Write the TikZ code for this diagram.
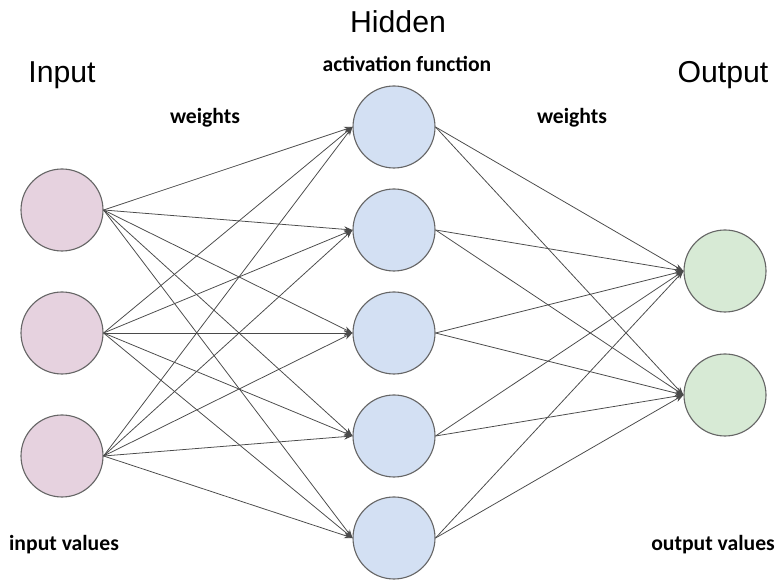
\documentclass[tikz,border=0pt]{standalone}
\usepackage{fontspec}
\setmainfont{Liberation Sans}
\newfontfamily\labelfont{Carlito}
\usetikzlibrary{arrows.meta}

\definecolor{inpink}{HTML}{E6D2DF}
\definecolor{hidblue}{HTML}{D3E0F3}
\definecolor{outgreen}{HTML}{D7EAD5}
\definecolor{rimgray}{HTML}{666666}
\definecolor{wiregray}{HTML}{4A4A4A}

\begin{document}
\begin{tikzpicture}[
  >={Stealth[length=2.1mm, width=1.5mm]},
  neuron/.style={circle, draw=rimgray, line width=0.8pt, minimum size=2.05cm, inner sep=0pt},
  innode/.style={neuron, fill=inpink},
  hidnode/.style={neuron, fill=hidblue},
  outnode/.style={neuron, fill=outgreen},
  arr/.style={->, line width=0.55pt, draw=wiregray},
  layer/.style={font=\fontsize{21.5}{24}\selectfont},
  note/.style={font=\labelfont\bfseries\fontsize{15.4}{18}\selectfont},
]
  \useasboundingbox (0,0) rectangle (19.4,14.525);

  % Layer titles
  \node[layer] (tin) at (1.55, 12.65) {Input};
  \node[layer] (thid) at (9.95, 13.975) {Hidden};
  \node[layer] (tout) at (18.075, 12.65) {Output};

  % Annotations
  \node[note] (act) at (10.175, 12.925) {activation function};
  \node[note] (w1) at (5.125, 11.575) {weights};
  \node[note] (w2) at (14.3, 11.575) {weights};
  \node[note] (inval) at (1.6, 0.9) {input values};
  \node[note] (outval) at (17.825, 0.9) {output values};

  % Inputs
  \node[innode] (in1) at (1.55, 9.275) {};
  \node[innode] (in2) at (1.55, 6.2) {};
  \node[innode] (in3) at (1.55, 3.125) {};

  % Hidden layer
  \node[hidnode] (h1) at (9.85, 11.35) {};
  \node[hidnode] (h2) at (9.85, 8.775) {};
  \node[hidnode] (h3) at (9.85, 6.2) {};
  \node[hidnode] (h4) at (9.85, 3.625) {};
  \node[hidnode] (h5) at (9.85, 1.075) {};

  % Outputs
  \node[outnode] (o1) at (18.125, 7.75) {};
  \node[outnode] (o2) at (18.125, 4.65) {};

  % Connections - input 1
  \draw[arr] (in1.east) -- (h1.west);
  \draw[arr] (in1.east) -- (h2.west);
  \draw[arr] (in1.east) -- (h3.west);
  \draw[arr] (in1.east) -- (h4.west);
  \draw[arr] (in1.east) -- (h5.west);

  % Connections - input 2
  \draw[arr] (in2.east) -- (h1.west);
  \draw[arr] (in2.east) -- (h2.west);
  \draw[arr] (in2.east) -- (h3.west);
  \draw[arr] (in2.east) -- (h4.west);
  \draw[arr] (in2.east) -- (h5.west);

  % Connections - input 3
  \draw[arr] (in3.east) -- (h1.west);
  \draw[arr] (in3.east) -- (h2.west);
  \draw[arr] (in3.east) -- (h3.west);
  \draw[arr] (in3.east) -- (h4.west);
  \draw[arr] (in3.east) -- (h5.west);

  % Connections - hidden to output 1
  \draw[arr] (h1.east) -- (o1.west);
  \draw[arr] (h2.east) -- (o1.west);
  \draw[arr] (h3.east) -- (o1.west);
  \draw[arr] (h4.east) -- (o1.west);
  \draw[arr] (h5.east) -- (o1.west);

  % Connections - hidden to output 2
  \draw[arr] (h1.east) -- (o2.west);
  \draw[arr] (h2.east) -- (o2.west);
  \draw[arr] (h3.east) -- (o2.west);
  \draw[arr] (h4.east) -- (o2.west);
  \draw[arr] (h5.east) -- (o2.west);

\end{tikzpicture}
\end{document}
